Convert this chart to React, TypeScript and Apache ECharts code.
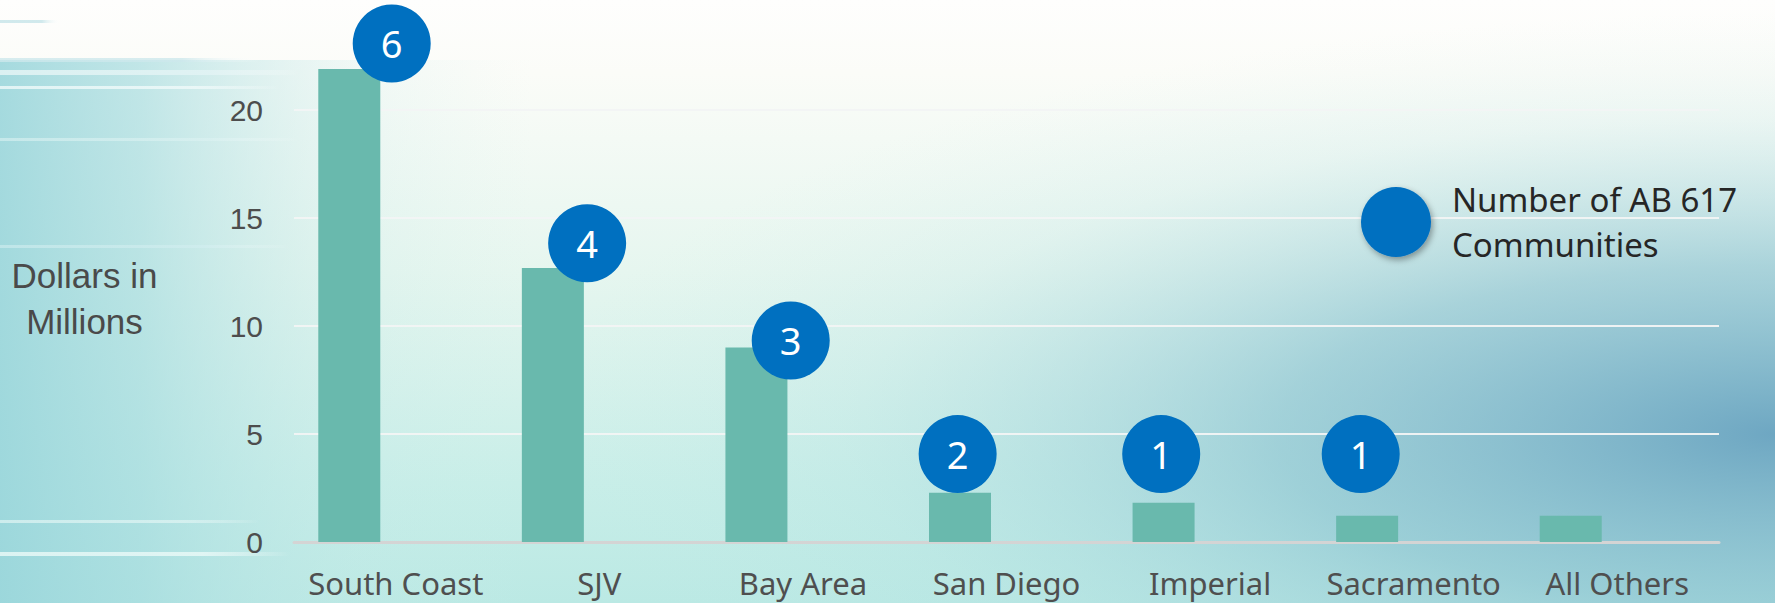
import React, { useEffect, useRef } from "react";
import * as echarts from "echarts";

const categories = ["South Coast", "SJV", "Bay Area", "San Diego", "Imperial", "Sacramento", "All Others"];
const dollarsInMillions = [21.9, 12.68, 9.0, 2.28, 1.82, 1.22, 1.22];
const communityCounts = [6, 4, 3, 2, 1, 1];
// marker placement in category-index units (value axis 0..7) and in dollar units
const communityMarkerX = [0.48, 1.44, 2.44, 3.26, 4.26, 5.24];
const communityMarkerY = [23.08, 13.83, 9.33, 4.07, 4.07, 4.07];
const yAxisMax = 25;
const yAxisInterval = 5;
const legendLabel = "Number of AB 617 Communities";

export default function App() {
  const ref = useRef<HTMLDivElement>(null);

  useEffect(() => {
    if (!ref.current) return;
    const chart = echarts.init(ref.current, undefined, { renderer: "svg" });
    const W = 1775;
    const H = 603;

    const scatterData = communityCounts.map((c, i) => [communityMarkerX[i], communityMarkerY[i], c]);

    const streak = (y: number, w: number, h: number, color: string) => ({
      type: "rect", silent: true, z: -97,
      shape: { x: 0, y, width: w, height: h },
      style: {
        fill: {
          type: "linear", x: 0, y: 0, x2: 1, y2: 0,
          colorStops: [
            { offset: 0, color },
            { offset: 0.7, color },
            { offset: 1, color: "rgba(255,255,255,0)" },
          ],
        },
      },
    });

    chart.setOption({
      animation: false,
      backgroundColor: "#fdfdfc",
      grid: { left: 294, right: 56, top: 2, bottom: 61, containLabel: false },
      graphic: [
        {
          type: "rect",
          silent: true,
          z: -100,
          shape: { x: 0, y: 0, width: W, height: H },
          style: {
            fill: {
              type: "linear", x: 0, y: 0, x2: 0, y2: 1,
              colorStops: [
                { offset: 0, color: "#fefefd" },
                { offset: 0.12, color: "#fbfcf8" },
                { offset: 0.45, color: "#e6f6ef" },
                { offset: 0.8, color: "#c8eee8" },
                { offset: 1, color: "#bbe9e4" },
              ],
            },
          },
        },
        {
          type: "rect",
          silent: true,
          z: -99,
          shape: { x: 0, y: 60, width: W, height: H - 60 },
          style: {
            fill: {
              type: "linear", x: 0, y: 0, x2: 1, y2: 0,
              colorStops: [
                { offset: 0, color: "rgba(150,212,218,0.85)" },
                { offset: 0.08, color: "rgba(162,218,222,0.65)" },
                { offset: 0.2, color: "rgba(195,232,232,0.2)" },
                { offset: 0.3, color: "rgba(210,240,236,0)" },
                { offset: 1, color: "rgba(210,240,236,0)" },
              ],
            },
          },
        },
        {
          type: "rect",
          silent: true,
          z: -98,
          shape: { x: 0, y: 0, width: W, height: H },
          style: {
            fill: {
              type: "radial", x: 1, y: 0.72, r: 0.7,
              colorStops: [
                { offset: 0, color: "rgba(105,163,192,0.95)" },
                { offset: 0.4, color: "rgba(130,188,205,0.6)" },
                { offset: 0.75, color: "rgba(170,218,224,0.15)" },
                { offset: 1, color: "rgba(200,235,235,0)" },
              ],
            },
          },
        },
        streak(20, 60, 3, "rgba(190,225,230,0.7)"),
        streak(58, 260, 4, "rgba(205,232,236,0.8)"),
        streak(70, 300, 5, "rgba(225,243,244,0.9)"),
        streak(86, 280, 3, "rgba(240,250,250,0.8)"),
        streak(138, 300, 3, "rgba(220,242,242,0.6)"),
        streak(245, 290, 3, "rgba(210,238,240,0.6)"),
        streak(520, 260, 3, "rgba(225,245,244,0.7)"),
        streak(552, 290, 4, "rgba(235,250,248,0.8)"),
        {
          type: "text",
          silent: true,
          z: 10,
          style: {
            x: 84.5,
            y: 298,
            text: "Dollars in\nMillions",
            align: "center",
            verticalAlign: "middle",
            fontFamily: "Liberation Sans, Arial, sans-serif",
            fontSize: 35,
            lineHeight: 46,
            fill: "#4a4a4a",
          },
        },
      ],
      legend: {
        data: [legendLabel],
        left: 1356,
        top: 172,
        orient: "vertical",
        icon: "circle",
        itemWidth: 70,
        itemHeight: 70,
        formatter: () => "Number of AB 617\nCommunities",
        itemStyle: {
          shadowBlur: 6,
          shadowColor: "rgba(0,0,0,0.35)",
          shadowOffsetX: 2,
          shadowOffsetY: 3,
        },
        textStyle: {
          fontFamily: "Noto Sans",
          fontSize: 33,
          lineHeight: 45,
          color: "#262626",
          padding: [0, 0, 0, 16],
        },
      },
      xAxis: [
        {
          type: "category",
          data: categories,
          axisLine: { show: true, lineStyle: { color: "#d4d4d4", width: 3 } },
          axisTick: { show: false },
          axisLabel: {
            color: "#4f4f4f",
            fontFamily: "Noto Sans",
            fontSize: 31,
            margin: 25,
            interval: 0,
          },
          splitLine: { show: false },
        },
        {
          type: "value",
          min: 0,
          max: categories.length,
          show: false,
        },
      ],
      yAxis: {
        type: "value",
        min: 0,
        max: yAxisMax,
        interval: yAxisInterval,
        axisLine: { show: false },
        axisTick: { show: false },
        axisLabel: {
          color: "#4d4d4d",
          fontFamily: "Liberation Sans, Arial, sans-serif",
          fontSize: 30,
          margin: 31,
          showMaxLabel: false,
        },
        splitLine: { show: true, showMaxLine: false, lineStyle: { color: "rgba(242,244,244,0.95)", width: 2 } },
      },
      series: [
        {
          name: "Dollars in Millions",
          type: "bar",
          xAxisIndex: 0,
          data: dollarsInMillions,
          barWidth: 62,
          barGap: "50%",
          itemStyle: { color: "#69b9ad" },
        },
        {
          name: "spacer",
          type: "bar",
          xAxisIndex: 0,
          data: categories.map(() => null),
          barWidth: 62,
          silent: true,
        },
        {
          name: legendLabel,
          type: "scatter",
          xAxisIndex: 1,
          data: scatterData,
          symbol: "circle",
          symbolSize: 78,
          itemStyle: { color: "#0070c0", opacity: 1 },
          label: {
            show: true,
            position: "inside",
            formatter: (p: any) => String(p.data[2]),
            color: "#ffffff",
            fontFamily: "Noto Sans",
            fontSize: 38,
          },
          z: 5,
        },
      ],
    });

    return () => chart.dispose();
  }, []);

  return (
    <div
      ref={ref}
      style={{ position: "absolute", left: 0, top: 0, width: 1775, height: 603 }}
    />
  );
}
